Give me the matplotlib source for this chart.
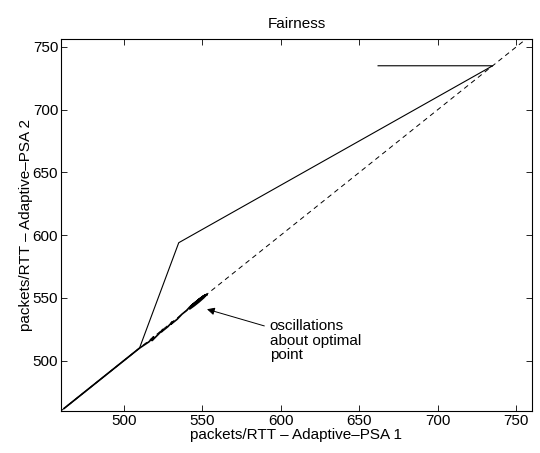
import numpy as np
import matplotlib.pyplot as plt

plt.rcParams['font.family'] = ['Liberation Sans', 'DejaVu Sans']

# main trajectory of the two flows (packets/RTT)
path_x = [662, 735, 535, 510, 462]
path_y = [735, 735, 594, 510, 462]

# oscillations that settle near the fair point
osc_x = [462, 510, 516, 519, 518, 522, 525, 524, 528, 531, 530, 534, 537, 540,
         542, 545, 548, 551, 553, 551, 548, 545, 542, 544, 547, 550, 553, 551,
         548, 545, 543, 546, 549, 552]
osc_y = [462, 510, 515, 519, 516, 521, 525, 523, 527, 531, 529, 533, 537, 540,
         542.8, 546.0, 549.0, 551.6, 553.0, 550.2, 546.9, 543.9, 541.2, 544.8,
         547.9, 550.9, 552.4, 551.8, 548.7, 545.6, 543.4, 546.7, 549.8, 552.3]

fair = [460, 760]
ticks = [500, 550, 600, 650, 700, 750]

fig = plt.figure(figsize=(5.4, 4.53), dpi=100)
ax = fig.add_axes([0.113, 0.093, 0.872, 0.82])

ax.plot(fair, fair, 'k--', lw=0.7, dashes=(5, 4))
ax.plot(path_x, path_y, 'k-', lw=0.8)
ax.plot(osc_x, osc_y, 'k-', lw=1.2)

ax.annotate('oscillations\nabout optimal\npoint', xy=(553, 541), xytext=(593, 533),
            fontsize=11, ha='left', va='top', linespacing=1.05,
            arrowprops=dict(arrowstyle='-|>', color='k', lw=0.7,
                            mutation_scale=11, shrinkA=2, shrinkB=0))

ax.set_xlim(460, 760)
ax.set_ylim(460, 756)
ax.set_xticks(ticks)
ax.set_yticks(ticks)
ax.tick_params(direction='in', top=True, right=True, labelsize=11, length=4,
               width=0.6, pad=2)
for s in ax.spines.values():
    s.set_linewidth(0.8)

ax.set_xlabel('packets/RTT \u2013 Adaptive\u2013PSA 1', fontsize=11, labelpad=0)
ax.set_ylabel('packets/RTT \u2013 Adaptive\u2013PSA 2', fontsize=11, labelpad=0)
ax.set_title('Fairness', fontsize=11, pad=8)

fig.savefig('out.png', dpi=100)
